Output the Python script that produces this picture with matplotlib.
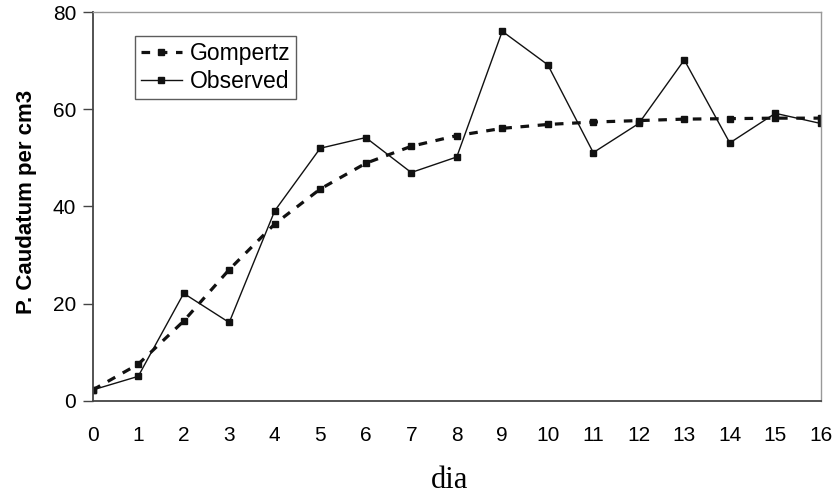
import matplotlib
matplotlib.use('Agg')
import matplotlib.pyplot as plt

days = list(range(17))
observed = [2.2, 5.0, 22.1, 16.1, 39.1, 52.0, 54.2, 47.0, 50.2, 76.1, 69.2, 51.1, 57.1, 70.2, 53.1, 59.2, 57.1]
gompertz = [2.2, 7.5, 16.4, 27.0, 36.4, 43.6, 48.9, 52.4, 54.6, 56.1, 56.9, 57.4, 57.7, 58.0, 58.1, 58.2, 58.2]
y_ticks = [0, 20, 40, 60, 80]

plt.rcParams['font.family'] = ['Liberation Sans', 'DejaVu Sans']

fig = plt.figure(figsize=(8.35, 4.94), dpi=100)
ax = fig.add_axes([0.111, 0.189, 0.872, 0.786])

ax.plot(days, gompertz, color='#111111', linestyle=(0, (2.7, 2.7)), linewidth=2.3,
        marker='s', markersize=5, label='Gompertz')
ax.plot(days, observed, color='#111111', linestyle='-', linewidth=1.0,
        marker='s', markersize=4.6, label='Observed')

ax.set_xlim(0, 16)
ax.set_ylim(0, 80)
ax.set_xticks(days)
ax.set_yticks(y_ticks)
ax.tick_params(axis='x', length=0, pad=18, labelsize=15)
ax.tick_params(axis='y', direction='out', length=7, width=1, pad=5, labelsize=15, color='#444444')

for s in ['top', 'right']:
    ax.spines[s].set_color('#999999')
    ax.spines[s].set_linewidth(1)
for s in ['left', 'bottom']:
    ax.spines[s].set_color('#444444')
    ax.spines[s].set_linewidth(1.3)

ax.set_ylabel('P. Caudatum per cm3', fontsize=16, fontweight='bold')
ax.yaxis.set_label_coords(-0.077, 0.513)
ax.set_xlabel('dia', fontsize=22, family=['Liberation Serif', 'DejaVu Serif'])
ax.xaxis.set_label_coords(0.49, -0.168)

leg = ax.legend(loc='upper left', bbox_to_anchor=(0.058, 0.939), fontsize=16.5,
                frameon=True, fancybox=False, edgecolor='#333333', borderpad=0.25,
                handlelength=1.8, handletextpad=0.35, labelspacing=0.25, borderaxespad=0)
leg.get_frame().set_linewidth(1)

fig.savefig('out.png', dpi=100)
